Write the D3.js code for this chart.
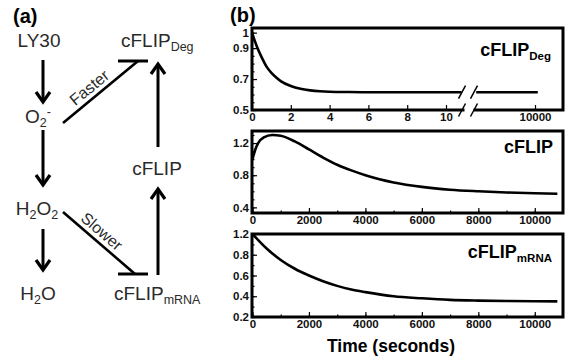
<!DOCTYPE html>
<html lang="en">
<head>
<meta charset="UTF-8">
<title>cFLIP time courses</title>
<script src="https://d3js.org/d3.v7.min.js"></script>
<style>
    body { margin: 0; background: #fff; }
    svg { display: block; font-family: "Liberation Sans", Arial, sans-serif; }
    .diag text { fill: #2a2a2a; font-size: 19px; }
    .axis text { font-size: 11.5px; font-weight: bold; fill: #111; }
    .axis path { display: none; }
    .axis line { stroke: #000; stroke-width: 1.2px; }
    .frame { fill: none; stroke: #000; stroke-width: 3px; }
    .curve { fill: none; stroke: #000; stroke-width: 2.6px; }
</style>
</head>
<body>
<svg width="571" height="360"></svg>
<script>
// ---- data ----
// panel 1: cFLIP_Deg, time axis broken after 10 s
const degT = [0, 0.25, 0.5, 0.75, 1, 1.25, 1.5, 2, 2.5, 3, 3.5, 4, 5, 6, 8, 10, 10.8];
const degV = [1.0, 0.91, 0.84, 0.78, 0.74, 0.71, 0.685, 0.655, 0.637, 0.627, 0.621, 0.618, 0.616, 0.615, 0.615, 0.615, 0.615];
const degLateT = [7900, 10100];
const degLateV = [0.615, 0.615];
const degXTicks = [0, 2, 4, 6, 8, 10];
const degYTicks = [0.5, 0.7, 0.9, 1.0];
const degYLabels = ["0.5", "0.7", "0.9", "1"];

// panel 2: cFLIP
const flipT = [0, 100, 200, 400, 700, 1000, 1500, 2000, 2500, 3000, 3500, 4000, 4500, 5000, 6000, 7000, 8000, 9000, 10000, 10800];
const flipV = [1.0, 1.12, 1.2, 1.27, 1.30, 1.29, 1.22, 1.12, 1.02, 0.93, 0.86, 0.80, 0.75, 0.71, 0.655, 0.62, 0.60, 0.585, 0.575, 0.57];
const flipYTicks = [0.4, 0.8, 1.2];

// panel 3: cFLIP mRNA (top label reads "1.2" in the original)
const mrnaT = [0, 500, 1000, 1500, 2000, 2500, 3000, 3500, 4000, 5000, 6000, 7000, 8000, 9000, 10000, 10800];
const mrnaV = [1.0, 0.86, 0.75, 0.665, 0.60, 0.545, 0.50, 0.465, 0.44, 0.40, 0.38, 0.365, 0.358, 0.354, 0.352, 0.351];
const mrnaYTicks = [0.2, 0.4, 0.6, 0.8, 1.0];
const mrnaYLabels = ["0.2", "0.4", "0.6", "0.8", "1.2"];

const timeTicks = [0, 2000, 4000, 6000, 8000, 10000];

const svg = d3.select("svg");
const x0 = 252, x1 = 563;

// ---------- panel (b) ----------
function frame(top, bottom) {
    svg.append("rect").attr("class", "frame")
        .attr("x", x0).attr("y", top).attr("width", x1 - x0).attr("height", bottom - top);
}

function yAxis(y, ticks, labels, minor) {
    svg.append("g").attr("class", "axis").attr("transform", `translate(${x0},0)`)
        .call(d3.axisLeft(y).tickValues(minor).tickSize(-2.5).tickFormat(""));
    svg.append("g").attr("class", "axis").attr("transform", `translate(${x0},0)`)
        .call(d3.axisLeft(y).tickValues(ticks).tickSize(-5).tickPadding(3)
            .tickFormat((d, i) => labels[i]));
}

function xAxis(x, bottom, ticks, minor) {
    if (minor) {
        svg.append("g").attr("class", "axis").attr("transform", `translate(0,${bottom})`)
            .call(d3.axisBottom(x).tickValues(minor).tickSize(-2.5).tickFormat(""));
    }
    svg.append("g").attr("class", "axis").attr("transform", `translate(0,${bottom})`)
        .call(d3.axisBottom(x).tickValues(ticks).tickSize(-5).tickPadding(3).tickFormat(d3.format("d")));
}

function title(xr, y, main, sub) {
    const t = svg.append("text").attr("x", xr).attr("y", y).attr("text-anchor", "end")
        .style("font-weight", "bold").style("font-size", "18px");
    t.append("tspan").text(main);
    if (sub) t.append("tspan").attr("dy", 4).style("font-size", "11.5px").text(sub);
}

function curve(x, y, ts, vs) {
    const line = d3.line().x(d => x(d[0])).y(d => y(d[1])).curve(d3.curveMonotoneX);
    svg.append("path").attr("class", "curve").attr("d", line(d3.zip(ts, vs)));
}

// panel 1
const p1 = [28, 110];
const xDeg = d3.scaleLinear().domain([0, 10]).range([252, 446]);
const xLate = d3.scaleLinear().domain([10000, 11000]).range([535, 563]);
const yDeg = d3.scaleLinear().domain([0.5, 1.03]).range([p1[1], p1[0]]);
frame(p1[0], p1[1]);
yAxis(yDeg, degYTicks, degYLabels, d3.range(0.5, 1.01, 0.05));
xAxis(xDeg, p1[1], degXTicks, null);
xAxis(xLate, p1[1], [10000], null);
curve(xDeg, yDeg, degT, degV);
curve(xLate, yDeg, degLateT, degLateV);
// axis break
svg.append("rect").attr("x", 464.5).attr("y", p1[1] - 3).attr("width", 9).attr("height", 6).attr("fill", "#fff");
[yDeg(0.615), p1[1]].forEach(yy => {
    [462, 474].forEach(xx => {
        svg.append("line").attr("x1", xx - 3.5).attr("y1", yy + 6.5).attr("x2", xx + 3.5).attr("y2", yy - 6.5)
            .attr("stroke", "#000").attr("stroke-width", 1.5);
    });
});
title(551, 56, "cFLIP", "Deg");

// panel 2
const p2 = [131, 213];
const xTime = d3.scaleLinear().domain([0, 11000]).range([252.5, 563]);
const yFlip = d3.scaleLinear().domain([0.33, 1.35]).range([p2[1], p2[0]]);
frame(p2[0], p2[1]);
yAxis(yFlip, flipYTicks, flipYTicks.map(String), d3.range(0.4, 1.31, 0.1));
xAxis(xTime, p2[1], timeTicks, d3.range(0, 11000, 1000));
curve(xTime, yFlip, flipT, flipV);
title(553, 153, "cFLIP", null);

// panel 3
const p3 = [234, 317];
const yMrna = d3.scaleLinear().domain([0.2, 1.0]).range([p3[1], p3[0]]);
frame(p3[0], p3[1]);
yAxis(yMrna, mrnaYTicks, mrnaYLabels, d3.range(0.2, 1.01, 0.1));
xAxis(xTime, p3[1], timeTicks, d3.range(0, 11000, 1000));
curve(xTime, yMrna, mrnaT, mrnaV);
title(552, 258, "cFLIP", "mRNA");

svg.append("text").attr("x", 391).attr("y", 352).attr("text-anchor", "middle")
    .style("font-weight", "bold").style("font-size", "17.5px").text("Time (seconds)");

// ---------- panel (a): reaction scheme ----------
const diag = svg.append("g").attr("class", "diag");

svg.append("text").attr("x", 13).attr("y", 23).style("font-weight", "bold").style("font-size", "20px").text("(a)");
svg.append("text").attr("x", 230).attr("y", 22).style("font-weight", "bold").style("font-size", "20px").text("(b)");

function species(x, y, parts, anchor) {
    const t = diag.append("text").attr("x", x).attr("y", y).attr("text-anchor", anchor || "middle");
    let shift = 0;
    parts.forEach(([s, kind]) => {
        const dy = kind === "sub" ? 4 : kind === "sup" ? -7 : 0;
        t.append("tspan").attr("dy", dy - shift).style("font-size", kind ? "12.5px" : "19px").text(s);
        shift = dy;
    });
}

species(39, 47, [["LY30"]]);
species(38, 123, [["O"], ["2", "sub"], ["-", "sup"]]);
species(37, 215, [["H"], ["2", "sub"], ["O"], ["2", "sub"]]);
species(38, 300, [["H"], ["2", "sub"], ["O"]]);
species(121, 47, [["cFLIP"], ["Deg", "sub"]], "start");
species(157, 175, [["cFLIP"]]);
species(114, 300, [["cFLIP"], ["mRNA", "sub"]], "start");

function arrow(xa, ya, xb, yb) {
    diag.append("line").attr("x1", xa).attr("y1", ya).attr("x2", xb).attr("y2", yb)
        .attr("stroke", "#000").attr("stroke-width", 3);
    const dir = yb > ya ? -1 : 1;
    diag.append("path")
        .attr("d", `M${xb - 7},${yb + dir * 10} L${xb},${yb} L${xb + 7},${yb + dir * 10}`)
        .attr("fill", "none").attr("stroke", "#000").attr("stroke-width", 3.2);
}

function inhibit(xa, ya, xb, yb) {
    diag.append("line").attr("x1", xa).attr("y1", ya).attr("x2", xb).attr("y2", yb)
        .attr("stroke", "#000").attr("stroke-width", 2.6);
    diag.append("line").attr("x1", 118).attr("y1", yb).attr("x2", 148).attr("y2", yb)
        .attr("stroke", "#000").attr("stroke-width", 3);
}

arrow(43, 60, 43, 102);
arrow(43, 130, 43, 185);
arrow(43, 229, 43, 270);
arrow(158, 147, 158, 64);
arrow(158, 275, 158, 189);
inhibit(63, 123, 138, 61);
inhibit(63, 212, 135, 274);

diag.append("text").attr("transform", "translate(96,95.7) rotate(-39.6)")
    .attr("y", -5).attr("text-anchor", "middle").style("font-size", "16px").text("Faster");
diag.append("text").attr("transform", "translate(95,239.4) rotate(40.7)")
    .attr("y", -5).attr("text-anchor", "middle").style("font-size", "16px").text("Slower");
</script>
</body>
</html>
